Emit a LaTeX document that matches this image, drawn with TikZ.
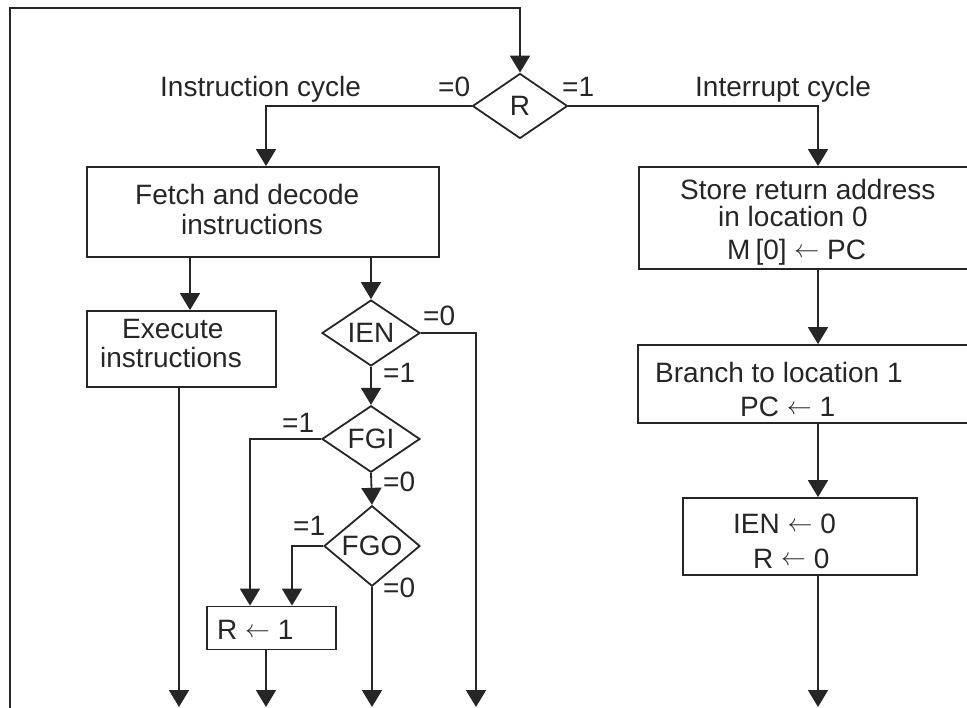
\documentclass[tikz,border=0pt]{standalone}
\usepackage{fontspec}
\setmainfont{Liberation Sans}
\usetikzlibrary{arrows.meta,shapes.geometric}

% long thin assignment arrow
\newcommand{\getsarrow}{\raisebox{2pt}{$\leftarrow$}}

\tikzset{
  wire/.style={line width=1.8pt, draw=black!85},
  arr/.style={wire, -{Triangle[length=17pt,width=20pt]}},
  box/.style={rectangle, draw=black!85, line width=1.8pt, inner sep=0pt},
  decide/.style={diamond, draw=black!85, line width=1.8pt, inner sep=0pt,
                 font=\fontsize{28}{30}\selectfont, text=black!85},
  txt/.style={inner sep=0pt, anchor=base west, text=black!85,
              font=\fontsize{28}{30}\selectfont},
}

\begin{document}
\begin{tikzpicture}[x=1pt, y=-1pt]
  \clip (0,0) rectangle (967,708);

  % decision diamonds
  \node[decide, minimum width=95pt, minimum height=65pt] (R)   at (520,106) {R};
  \node[decide, minimum width=98pt, minimum height=64pt] (ien) at (371,333) {IEN};
  \node[decide, minimum width=98pt, minimum height=66pt] (fgi) at (371,439) {FGI};
  \node[decide, minimum width=96pt, minimum height=66pt] (fgo) at (372,546) {FGO};

  % process boxes (the interrupt-cycle boxes run past the right edge)
  \node[box, minimum width=352pt, minimum height=90pt]  (fetch)  at (263,212)   {};
  \node[box, minimum width=189pt, minimum height=76pt]  (exec)   at (181.5,349) {};
  \node[box, minimum width=129pt, minimum height=43pt]  (rset)   at (271.5,628) {};
  \node[box, minimum width=358pt, minimum height=102pt] (store)  at (818,218)   {};
  \node[box, minimum width=360pt, minimum height=78pt]  (branch) at (818,384)   {};
  \node[box, minimum width=234pt, minimum height=77pt]  (clr)    at (800,536.5) {};

  % box texts
  \node[txt] (tfetch1) at (135,205) {Fetch and decode};
  \node[txt] (tfetch2) at (181,235) {instructions};
  \node[txt] (texec1)  at (122,339) {Execute};
  \node[txt] (texec2)  at (100,368) {instructions};
  \node[txt] (trset)   at (217,639) {R \getsarrow{} 1};
  \node[txt] (tstore1) at (680,200) {Store return address};
  \node[txt] (tstore2) at (718,227) {in location 0};
  \node[txt] (tstore3) at (727,260) {M\kern5pt[0] \getsarrow{} PC};
  \node[txt] (tbr1)    at (655,383) {Branch to location 1};
  \node[txt] (tbr2)    at (740,417) {PC \getsarrow{} 1};
  \node[txt] (tclr1)   at (733,533) {IEN \getsarrow{} 0};
  \node[txt] (tclr2)   at (753,568) {R \getsarrow{} 0};

  % headings and branch values
  \node[txt] (hinst) at (160,97) {Instruction cycle};
  \node[txt] (hint)  at (695,97) {Interrupt cycle};
  \node[txt] (rz)    at (438,97) {=0};
  \node[txt] (ro)    at (562,97) {=1};
  \node[txt] (ienz)  at (423,326) {=0};
  \node[txt] (ieno)  at (383,383) {=1};
  \node[txt] (fgio)  at (282,433) {=1};
  \node[txt] (fgiz)  at (383,492) {=0};
  \node[txt] (fgoo)  at (293,535) {=1};
  \node[txt] (fgoz)  at (383,597) {=0};

  % column positions and free ends at the bottom
  \coordinate (loopin)  at (10,708);
  \coordinate (looptop) at (10,8);
  \coordinate (cfetch)  at (266,0);
  \coordinate (cexec)   at (190,0);
  \coordinate (cin)     at (250,0);
  \coordinate (cout)    at (292,0);
  \coordinate (eexec)   at (179,707);
  \coordinate (erset)   at (266,707);
  \coordinate (efgo)    at (372,707);
  \coordinate (eien)    at (476,707);
  \coordinate (eclr)    at (818,707);

  % return loop into R
  \draw[arr] (loopin) -- (looptop) -| (R.north);

  % instruction cycle
  \draw[arr] (R.west) -| (fetch.north -| cfetch);
  \draw[arr] (fetch.south -| cexec) -- (exec.north -| cexec);
  \draw[arr] (exec.south -| eexec) -- (eexec);
  \draw[arr] (fetch.south -| ien.north) -- (ien.north);
  \draw[arr] (ien.east) -| (eien);
  \draw[arr] (ien.south) -- (fgi.north);
  \draw[arr] (fgi.west) -| (rset.north -| cin);
  \draw[arr] (fgi.south) -- (fgo.north);
  \draw[arr] (fgo.west) -| (rset.north -| cout);
  \draw[arr] (fgo.south) -- (efgo);
  \draw[arr] (rset.south -| erset) -- (erset);

  % interrupt cycle
  \draw[arr] (R.east) -| (store.north);
  \draw[arr] (store.south) -- (branch.north);
  \draw[arr] (branch.south) -- (clr.north -| branch.south);
  \draw[arr] (clr.south -| eclr) -- (eclr);
\end{tikzpicture}
\end{document}
